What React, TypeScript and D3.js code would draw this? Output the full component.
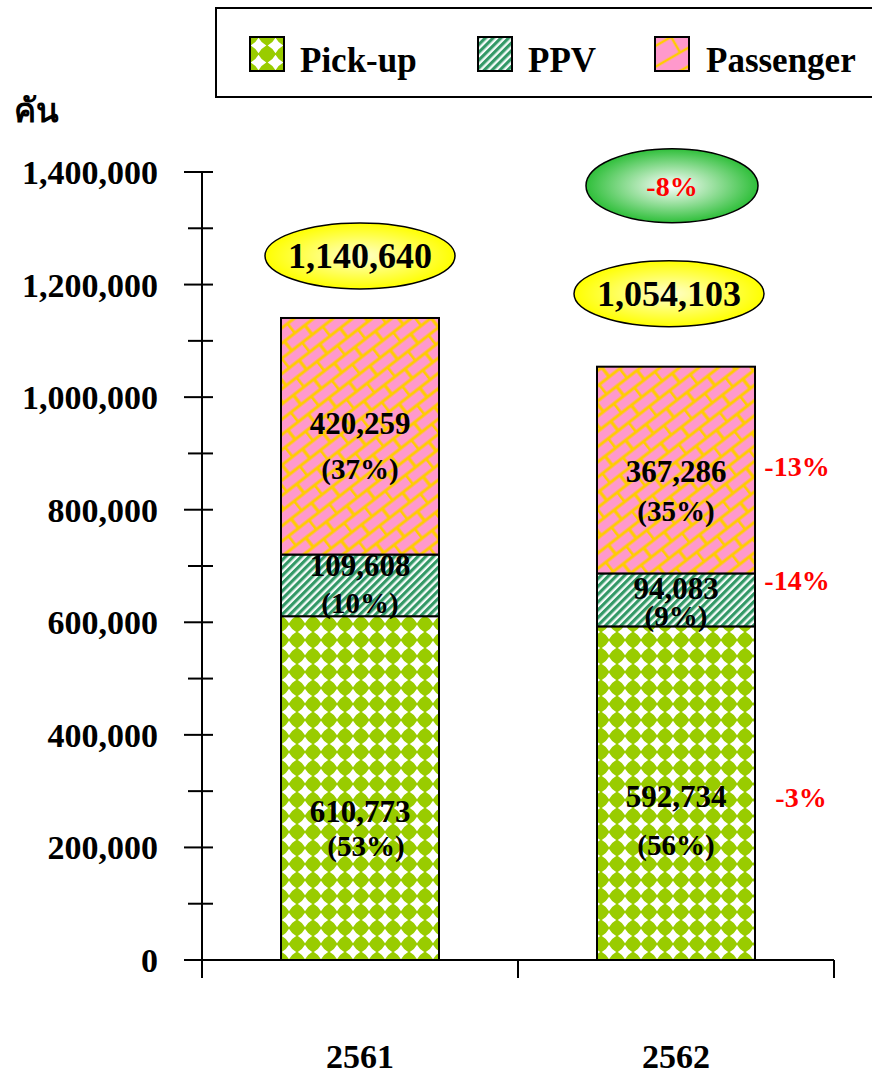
import React from "react";
import * as d3 from "d3";

const years = ["2561", "2562"];
const seriesNames = ["Pick-up", "PPV", "Passenger"];
const pickup = [610773, 592734];
const ppv = [109608, 94083];
const passenger = [420259, 367286];
const pickupPct = [53, 56];
const ppvPct = [10, 9];
const passengerPct = [37, 35];
const changePct = [-3, -14, -13];
const totalChangePct = -8;
const yTicks = [0, 200000, 400000, 600000, 800000, 1000000, 1200000, 1400000];

// label layout offsets (px, relative to segment middle): [value, percent] per bar
const labelOffsets = [
  [ [24, 58], [4, 52] ],          // pick-up
  [ [-19.5, 17.5], [-10.5, 16.5] ], // ppv
  [ [-12, 33], [2, 41] ],         // passenger
];
const changeOffsets = [4, -20, -4];

const FONT = "'Liberation Serif', 'Times New Roman', serif";
const W = 872, H = 1075;

export default function App() {
  const series = [pickup, ppv, passenger];
  const pcts = [pickupPct, ppvPct, passengerPct];
  const totals = years.map((_, i) => pickup[i] + ppv[i] + passenger[i]);
  const y = d3.scaleLinear().domain([0, 1400000]).range([960, 172]);
  const x = d3.scaleBand<string>().domain(years).range([202, 834]).paddingInner(0.5).paddingOuter(0.25);
  const stack = d3.stack<number>().keys(["0", "1", "2"]).value((i, k) => series[+k][i]);
  const stacked = stack([0, 1]);
  const fills = ["url(#pk)", "url(#ppv)", "url(#pass)"];
  const legendFills = ["url(#pkL)", "url(#ppv)", "url(#passL)"];
  const fmt = d3.format(",");
  const minorTicks = d3.range(100000, 1400000, 200000);
  const step = x.step();
  const cats = [202, 202 + step, 202 + 2 * step];

  const diamond = (cx: number, cy: number, r: number) =>
    `M${cx},${cy - r} Q${cx + r * 0.35},${cy - r * 0.35} ${cx + r},${cy} Q${cx + r * 0.35},${cy + r * 0.35} ${cx},${cy + r} Q${cx - r * 0.35},${cy + r * 0.35} ${cx - r},${cy} Q${cx - r * 0.35},${cy - r * 0.35} ${cx},${cy - r}Z`;

  return (
    <svg width={W} height={H} style={{ display: "block", position: "absolute", left: 0, top: 0 }} fontFamily={FONT} fontWeight="bold">
      <defs>
        <pattern id="pk" width={16} height={16} patternUnits="userSpaceOnUse" x={281} y={0}>
          <rect width={16} height={16} fill="#99cc00" />
          <path d={diamond(8, 8, 7.2)} fill="#ffffff" />
        </pattern>
        <pattern id="pkL" width={17} height={17} patternUnits="userSpaceOnUse" x={250} y={37}>
          <rect width={17} height={17} fill="#99cc00" />
          <path d={diamond(8.5, 8.5, 7.8)} fill="#ffffff" />
        </pattern>
        <pattern id="ppv" width={5.5} height={5.5} patternUnits="userSpaceOnUse" patternTransform="rotate(45)">
          <rect width={5.5} height={5.5} fill="#ffffff" />
          <rect width={3} height={5.5} fill="#339966" />
          <rect x={3} width={0.8} height={5.5} fill="#8fcbb0" />
        </pattern>
        <pattern id="pass" width={26} height={24} patternUnits="userSpaceOnUse" patternTransform="rotate(-38)">
          <rect width={26} height={24} fill="#ff99cc" />
          <path d="M0,0 H26 M0,12 H26 M0,24 H26 M1,0 V12 M14,12 V24" stroke="#ffcc00" strokeWidth={3.2} fill="none" />
        </pattern>
        <pattern id="passL" width={34} height={34} patternUnits="userSpaceOnUse" x={655} y={37} patternTransform="rotate(-30 655 37)">
          <rect width={34} height={34} fill="#ff99cc" />
          <path d="M0,8 H34 M0,26 H34 M14,8 V26" stroke="#ffcc00" strokeWidth={2.5} fill="none" />
        </pattern>
        <radialGradient id="yel" cx="50%" cy="50%" r="50%">
          <stop offset="0%" stopColor="#ffffcc" />
          <stop offset="100%" stopColor="#ffff00" />
        </radialGradient>
        <radialGradient id="grn" cx="50%" cy="50%" r="50%">
          <stop offset="0%" stopColor="#ffffff" />
          <stop offset="100%" stopColor="#2fbf3a" />
        </radialGradient>
      </defs>
      <rect width={W} height={H} fill="#ffffff" />

      {/* Legend */}
      <rect x={216} y={8} width={680} height={89} fill="#fff" stroke="#000" strokeWidth={2} />
      {seriesNames.map((n, i) => {
        const sx = [250, 478, 655][i];
        return (
          <g key={n}>
            <rect x={sx} y={37} width={34} height={34} fill={legendFills[i]} stroke="#000" strokeWidth={2} />
            <text x={[300, 528, 706][i]} y={72} fontSize={35}>{n}</text>
          </g>
        );
      })}

      {/* y unit */}
      <text x={14} y={122} fontSize={33}>คัน</text>

      {/* bars */}
      {stacked.map((layer, k) =>
        layer.map((d, i) => (
          <rect key={k + "-" + i} x={x(years[i])} y={y(d[1])} width={x.bandwidth()} height={y(d[0]) - y(d[1])}
            fill={fills[k]} stroke="#000" strokeWidth={2} />
        ))
      )}

      {/* axes */}
      <line x1={202} x2={202} y1={y(1400000)} y2={978} stroke="#000" strokeWidth={2} />
      <line x1={184} x2={834} y1={y(0)} y2={y(0)} stroke="#000" strokeWidth={2} />
      {yTicks.map((t) => (
        <g key={t}>
          <line x1={184} x2={213} y1={y(t)} y2={y(t)} stroke="#000" strokeWidth={2} />
          <text x={158} y={y(t) + 12} fontSize={34} textAnchor="end">{fmt(t)}</text>
        </g>
      ))}
      {minorTicks.map((t) => (
        <line key={t} x1={188} x2={213} y1={y(t)} y2={y(t)} stroke="#000" strokeWidth={2} />
      ))}
      {cats.map((c, i) => (
        <line key={i} x1={c} x2={c} y1={y(0)} y2={978} stroke="#000" strokeWidth={2} />
      ))}
      {years.map((yr) => (
        <text key={yr} x={(x(yr) as number) + x.bandwidth() / 2} y={1068} fontSize={34} textAnchor="middle">{yr}</text>
      ))}

      {/* segment labels */}
      {stacked.map((layer, k) =>
        layer.map((d, i) => {
          const cx = (x(years[i]) as number) + x.bandwidth() / 2;
          const mid = (y(d[0]) + y(d[1])) / 2;
          const v = series[k][i];
          const [o1, o2] = labelOffsets[k][i];
          return (
            <g key={"l" + k + i}>
              <text x={cx} y={mid + o1 + 10} fontSize={31} textAnchor="middle">{fmt(v)}</text>
              <text x={cx + (k === 0 && i === 0 ? 6 : 0)} y={mid + o2 + 10} fontSize={29} textAnchor="middle">({pcts[k][i]}%)</text>
            </g>
          );
        })
      )}

      {/* change labels */}
      {stacked.map((layer, k) => {
        const d = layer[1];
        const mid = (y(d[0]) + y(d[1])) / 2;
        return (
          <text key={"c" + k} x={(x(years[1]) as number) + x.bandwidth() + 42 + (k === 0 ? 4 : 0)} y={mid + changeOffsets[k] + 10}
            fontSize={28} fill="#ff0000" textAnchor="middle">{changePct[k]}%</text>
        );
      })}

      {/* total ellipses */}
      {totals.map((t, i) => {
        const cx = (x(years[i]) as number) + x.bandwidth() / 2 + (i === 1 ? -7 : 0);
        const cy = y(t) - (i === 0 ? 62 : 73);
        return (
          <g key={"t" + i}>
            <ellipse cx={cx} cy={cy} rx={95} ry={33} fill="url(#yel)" stroke="#000" strokeWidth={1.5} />
            <text x={cx} y={cy + 12} fontSize={36} textAnchor="middle">{fmt(t)}</text>
          </g>
        );
      })}
      {(() => {
        const cx = (x(years[1]) as number) + x.bandwidth() / 2 - 4;
        const cy = y(totals[1]) - 181;
        return (
          <g>
            <ellipse cx={cx} cy={cy} rx={86} ry={37} fill="url(#grn)" stroke="#000" strokeWidth={1.5} />
            <text x={cx} y={cy + 10} fontSize={28} fill="#ff0000" textAnchor="middle">{totalChangePct}%</text>
          </g>
        );
      })()}
    </svg>
  );
}
